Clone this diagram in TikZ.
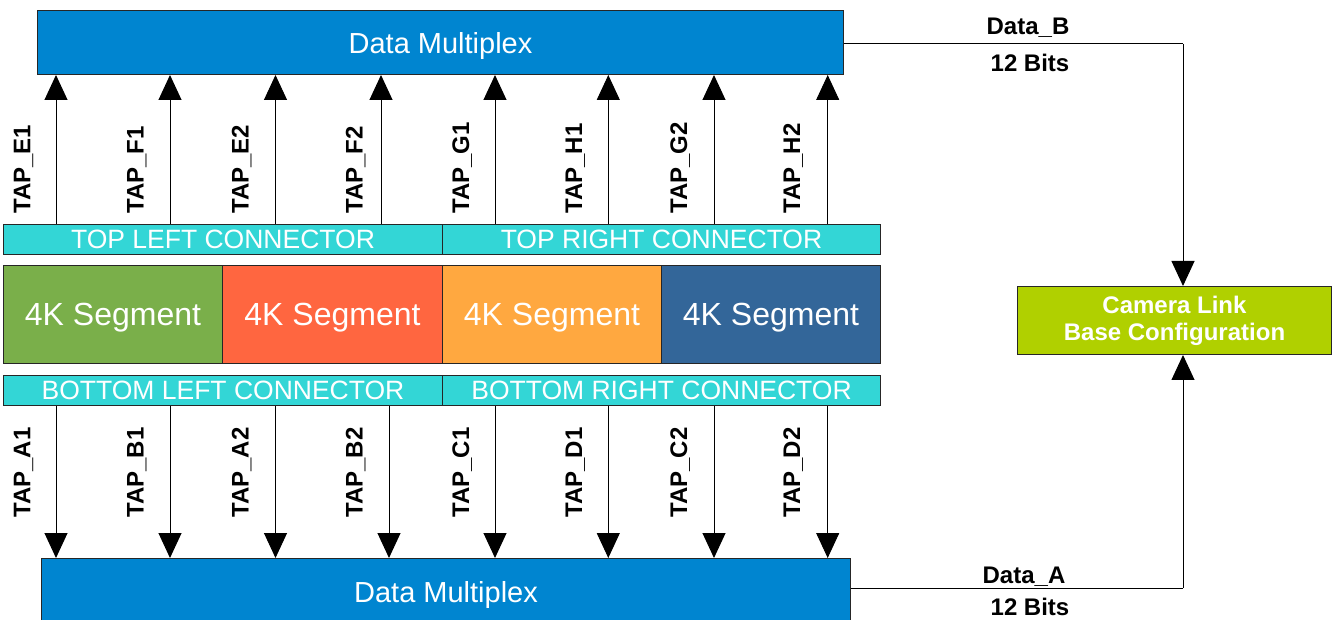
\documentclass[tikz,border=0pt]{standalone}
\usepackage{fontspec}
\setmainfont{Liberation Sans}
\usetikzlibrary{arrows.meta}
\definecolor{muxblue}{RGB}{0,133,208}
\definecolor{conncyan}{RGB}{51,214,214}
\definecolor{seggreen}{RGB}{122,175,74}
\definecolor{segred}{RGB}{255,102,64}
\definecolor{segorange}{RGB}{255,168,64}
\definecolor{segblue}{RGB}{51,102,153}
\definecolor{camgreen}{RGB}{176,208,0}
\begin{document}
\begin{tikzpicture}[x=1pt,y=-1pt,
 box/.style={draw=black!85, line width=1pt, inner sep=0pt, anchor=north west, text=white},
 muxbox/.style={box, fill=muxblue, text depth=0pt, font=\fontsize{29}{34}\selectfont},
 connbox/.style={box, fill=conncyan, minimum height=30pt, font=\fontsize{26.5}{30}\selectfont},
 segbox/.style={box, minimum height=98pt, text depth=0pt, font=\fontsize{32}{36}\selectfont},
 tap/.style={rotate=90, anchor=base west, inner sep=0pt, font=\bfseries\fontsize{24}{28}\selectfont},
 arr/.style={draw=black, line width=1pt, -{Triangle[length=25pt,width=23pt]}},
 wire/.style={draw=black, line width=1pt},
 dlabel/.style={anchor=base, inner sep=0pt, font=\bfseries\fontsize{24}{28}\selectfont}]
\fill[white] (0,0) rectangle (1334,620);
\useasboundingbox (0,0) rectangle (1334,620);

% boxes
\node[muxbox, minimum width=806pt, minimum height=64pt] (muxT) at (37,10) {Data Multiplex};
\node[connbox, minimum width=439pt] (tlc) at (3,224) {TOP LEFT CONNECTOR};
\node[connbox, minimum width=438pt] (trc) at (442,224) {TOP RIGHT CONNECTOR};
\node[segbox, fill=seggreen, minimum width=219pt] (s1) at (3,265) {4K Segment};
\node[segbox, fill=segred, minimum width=220pt] (s2) at (222,265) {4K Segment};
\node[segbox, fill=segorange, minimum width=219pt] (s3) at (442,265) {4K Segment};
\node[segbox, fill=segblue, minimum width=219pt] (s4) at (661,265) {4K Segment};
\node[connbox, minimum width=439pt] (blc) at (3,375) {BOTTOM LEFT CONNECTOR};
\node[connbox, minimum width=438pt] (brc) at (442,375) {BOTTOM RIGHT CONNECTOR};
\node[muxbox, minimum width=809pt, minimum height=66pt] (muxB) at (41,558) {Data Multiplex};
\node[box, fill=camgreen, minimum width=314pt, minimum height=68pt, align=center,
      font=\bfseries\fontsize{24}{27}\selectfont] (cam) at (1017,286) {Camera Link\\Base Configuration};

% arrow x positions
\coordinate (t1) at (56,0);  \coordinate (t2) at (170,0);
\coordinate (t3) at (275.5,0); \coordinate (t4) at (381,0);
\coordinate (t5) at (495,0); \coordinate (t6) at (608.3,0);
\coordinate (t7) at (714,0); \coordinate (t8) at (827.7,0);
\coordinate (b4) at (389,0);

% top arrows
\draw[arr] (tlc.north -| t1) -- (muxT.south -| t1);
\draw[arr] (tlc.north -| t2) -- (muxT.south -| t2);
\draw[arr] (tlc.north -| t3) -- (muxT.south -| t3);
\draw[arr] (tlc.north -| t4) -- (muxT.south -| t4);
\draw[arr] (trc.north -| t5) -- (muxT.south -| t5);
\draw[arr] (trc.north -| t6) -- (muxT.south -| t6);
\draw[arr] (trc.north -| t7) -- (muxT.south -| t7);
\draw[arr] (trc.north -| t8) -- (muxT.south -| t8);

% bottom arrows
\draw[arr] (blc.south -| t1) -- (muxB.north -| t1);
\draw[arr] (blc.south -| t2) -- (muxB.north -| t2);
\draw[arr] (blc.south -| t3) -- (muxB.north -| t3);
\draw[arr] (blc.south -| b4) -- (muxB.north -| b4);
\draw[arr] (brc.south -| t5) -- (muxB.north -| t5);
\draw[arr] (brc.south -| t6) -- (muxB.north -| t6);
\draw[arr] (brc.south -| t7) -- (muxB.north -| t7);
\draw[arr] (brc.south -| t8) -- (muxB.north -| t8);

% top labels
\node[tap] (lE1) at (30.5,214) {TAP\_E1};
\node[tap] (lF1) at (143.5,214) {TAP\_F1};
\node[tap] (lE2) at (248.5,214) {TAP\_E2};
\node[tap] (lF2) at (362.5,214) {TAP\_F2};
\node[tap] (lG1) at (469,214) {TAP\_G1};
\node[tap] (lH1) at (582,214) {TAP\_H1};
\node[tap] (lG2) at (687,214) {TAP\_G2};
\node[tap] (lH2) at (800,214) {TAP\_H2};

% bottom labels
\node[tap] (lA1) at (30.5,518) {TAP\_A1};
\node[tap] (lB1) at (143.5,518) {TAP\_B1};
\node[tap] (lA2) at (248.5,518) {TAP\_A2};
\node[tap] (lB2) at (362.5,518) {TAP\_B2};
\node[tap] (lC1) at (469,518) {TAP\_C1};
\node[tap] (lD1) at (582,518) {TAP\_D1};
\node[tap] (lC2) at (687,518) {TAP\_C2};
\node[tap] (lD2) at (800,518) {TAP\_D2};

% right-side connections
\coordinate (cB) at (1183,44);
\coordinate (cA) at (1183,588);
\draw[wire] (muxT.east |- cB) -- (cB);
\draw[arr] (cB) -- (cB |- cam.north);
\draw[wire] (muxB.east |- cA) -- (cA);
\draw[arr] (cA) -- (cA |- cam.south);

\node[dlabel] (dB) at (1028,35) {Data\_B};
\node[dlabel] (bB) at (1030,71.7) {12 Bits};
\node[dlabel] (dA) at (1024,583.3) {Data\_A};
\node[dlabel] (bA) at (1030,615) {12 Bits};
\end{tikzpicture}
\end{document}
